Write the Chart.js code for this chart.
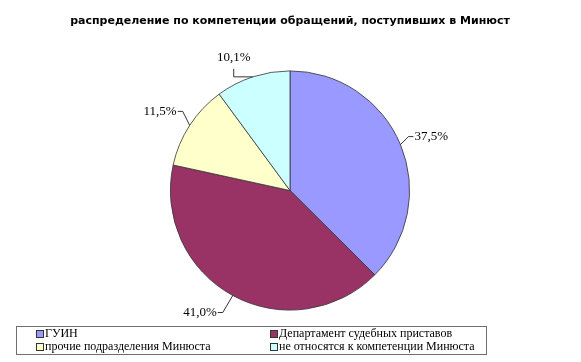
<!DOCTYPE html>
<html lang="ru">
<head>
  <meta charset="UTF-8">
  <title>распределение по компетенции обращений</title>
  <style>
    body {
      margin: 0;
      background: #ffffff;
    }
    .wrap {
      position: relative;
      width: 581px;
      height: 362px;
    }
  </style>
</head>
<body>
  <div class="wrap">
    <canvas id="pie" width="581" height="362"></canvas>
  </div>

  <script src="https://cdn.jsdelivr.net/npm/chart.js"></script>
  <script>
    // Data
    const chartTitle = "распределение по компетенции обращений, поступивших в Минюст";
    const categories = [
      "ГУИН",
      "Департамент судебных приставов",
      "прочие подразделения Минюста",
      "не относятся к компетенции Минюста"
    ];
    const shares = [37.5, 41.0, 11.5, 10.1];
    const labelTexts = ["37,5%", "41,0%", "11,5%", "10,1%"];
    const sliceColors = ["#9999ff", "#993366", "#ffffcc", "#ccffff"];

    // how each leader line bends away from the slice edge (dx, dy of the elbow)
    const leaderBends = [[8, -8], [-10, 17], [-7, -14], [-19, -8]];

    const decorations = {
      id: "decorations",
      afterDraw(chart) {
        const ctx = chart.ctx;
        ctx.save();

        // title
        ctx.fillStyle = "#000";
        ctx.font = "bold 11px 'DejaVu Sans'";
        ctx.textAlign = "center";
        ctx.textBaseline = "middle";
        ctx.fillText(chartTitle, 290, 21);

        // slice labels with leader lines
        ctx.font = "13px 'Liberation Serif'";
        ctx.strokeStyle = "#000";
        ctx.lineWidth = 0.8;
        const arcs = chart.getDatasetMeta(0).data;
        arcs.forEach((arc, i) => {
          const mid = (arc.startAngle + arc.endAngle) / 2;
          const r = arc.outerRadius;
          const ax = arc.x + Math.cos(mid) * r;
          const ay = arc.y + Math.sin(mid) * r;
          const [dx, dy] = leaderBends[i];
          ctx.beginPath();
          ctx.moveTo(ax, ay);
          if (i === 3) {
            // top label: horizontal first, then up, text above
            ctx.lineTo(ax + dx, ay);
            ctx.lineTo(ax + dx, ay + dy);
            ctx.stroke();
            ctx.textAlign = "center";
            ctx.fillText(labelTexts[i], ax + dx, ay + dy - 11);
            return;
          }
          const ex = ax + dx, ey = ay + dy;
          const side = dx >= 0 ? 1 : -1;
          ctx.lineTo(ex, ey);
          ctx.lineTo(ex + side * 5, ey);
          ctx.stroke();
          ctx.textAlign = side > 0 ? "left" : "right";
          ctx.fillText(labelTexts[i], ex + side * 6, ey);
        });

        // legend box
        ctx.strokeStyle = "#6f6f6f";
        ctx.lineWidth = 1;
        ctx.strokeRect(16.5, 326.5, 470, 28);
        ctx.textAlign = "left";
        ctx.font = "12px 'Liberation Serif'";
        const cols = [36, 270];
        const rows = [334, 347];
        categories.forEach((name, i) => {
          const x = cols[i % 2], y = rows[Math.floor(i / 2)];
          ctx.fillStyle = sliceColors[i];
          ctx.fillRect(x, y - 4, 8, 8);
          ctx.strokeStyle = "#333";
          ctx.strokeRect(x + 0.5, y - 3.5, 7, 7);
          ctx.fillStyle = "#000";
          ctx.fillText(name, x + 9, y);
        });

        ctx.restore();
      }
    };

    new Chart(document.getElementById("pie"), {
      type: "pie",
      data: {
        labels: categories,
        datasets: [{
          data: shares,
          backgroundColor: sliceColors,
          borderColor: "#333333",
          borderWidth: 0.8
        }]
      },
      options: {
        responsive: false,
        animation: false,
        layout: {
          padding: { left: 170, right: 171, top: 70, bottom: 51 }
        },
        plugins: {
          legend: { display: false },
          title: { display: false },
          tooltip: { enabled: false }
        }
      },
      plugins: [decorations]
    });
  </script>
</body>
</html>
